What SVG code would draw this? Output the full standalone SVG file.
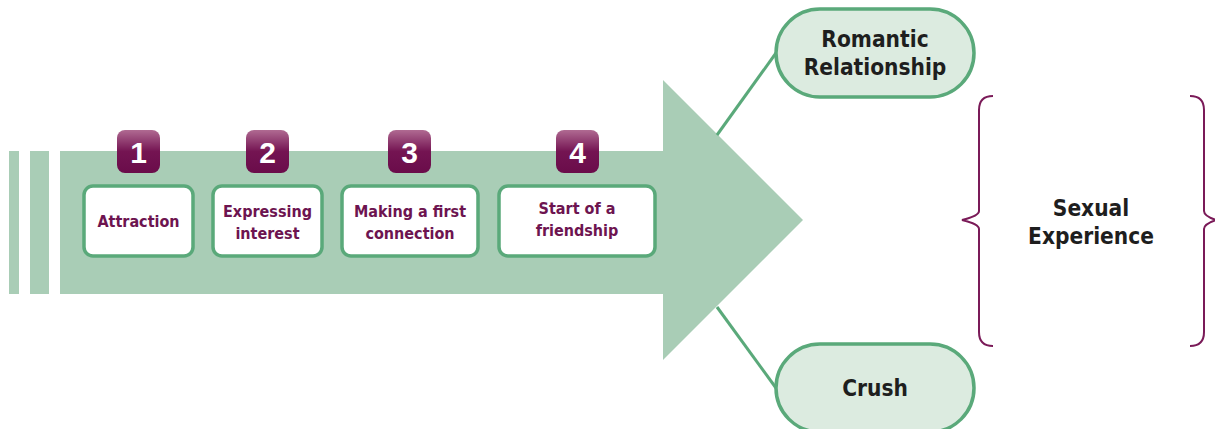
<svg xmlns="http://www.w3.org/2000/svg" width="1215" height="429" viewBox="0 0 1215 429">
<defs>
<linearGradient id="badgeGrad" x1="0" y1="0" x2="0" y2="1">
<stop offset="0" stop-color="#b06a92"/>
<stop offset="0.5" stop-color="#741452"/>
<stop offset="1" stop-color="#6a0c4a"/>
</linearGradient>
</defs>
<style>
.arrow{fill:#a9cdb6}
.box{fill:#ffffff;stroke:#5aa97a;stroke-width:3.5}
.badge{fill:url(#badgeGrad)}
.num{font-family:"Liberation Sans",Arial,sans-serif;font-weight:bold;font-size:30px;fill:#ffffff;text-anchor:middle}
.step{font-family:"DejaVu Sans Condensed","Liberation Sans",sans-serif;font-weight:bold;font-size:16px;fill:#6d1450;text-anchor:middle}
.pill{fill:#dcebe0;stroke:#5aa97a;stroke-width:3.5}
.big{font-family:"DejaVu Sans Condensed","Liberation Sans",sans-serif;font-weight:bold;font-size:22.5px;fill:#1e1e1e;text-anchor:middle}
.conn{stroke:#5aa97a;stroke-width:3;fill:none}
.brace{stroke:#7a1a58;stroke-width:2;fill:none}
</style>
<g id="arrow">
<rect class="arrow" x="9" y="151" width="10" height="143"/>
<rect class="arrow" x="30" y="151" width="19" height="143"/>
<polygon class="arrow" points="60,151 663,151 663,80 803,220 663,360 663,294 60,294"/>
</g>
<g id="connectors">
<line class="conn" x1="717" y1="135" x2="776" y2="53"/>
<line class="conn" x1="717" y1="307" x2="776" y2="388"/>
</g>
<g id="step1">
<rect class="badge" x="117" y="130" width="43" height="43" rx="8"/>
<text class="num" x="138.5" y="163">1</text>
<rect class="box" x="84" y="186" width="109" height="70" rx="9"/>
<text class="step" x="138.5" y="227">Attraction</text>
</g>
<g id="step2">
<rect class="badge" x="246" y="130" width="43" height="43" rx="8"/>
<text class="num" x="267.5" y="163">2</text>
<rect class="box" x="213" y="186" width="109" height="70" rx="9"/>
<text class="step" x="267.5" y="217">Expressing</text>
<text class="step" x="267.5" y="239">interest</text>
</g>
<g id="step3">
<rect class="badge" x="388" y="130" width="43" height="43" rx="8"/>
<text class="num" x="409.5" y="163">3</text>
<rect class="box" x="342" y="186" width="136" height="70" rx="9"/>
<text class="step" x="410" y="217">Making a first</text>
<text class="step" x="410" y="239">connection</text>
</g>
<g id="step4">
<rect class="badge" x="556" y="130" width="43" height="43" rx="8"/>
<text class="num" x="577.5" y="163">4</text>
<rect class="box" x="499" y="186" width="156" height="70" rx="9"/>
<text class="step" x="577" y="214">Start of a</text>
<text class="step" x="577" y="236">friendship</text>
</g>
<g id="romantic">
<rect class="pill" x="776" y="9" width="198" height="88" rx="44"/>
<text class="big" x="875" y="47">Romantic</text>
<text class="big" x="875" y="75">Relationship</text>
</g>
<g id="crush">
<rect class="pill" x="776" y="344" width="198" height="88" rx="44"/>
<text class="big" x="875" y="396">Crush</text>
</g>
<g id="sexual">
<path class="brace" d="M993,96 Q979,96 979,110 L979,211 Q979,216 962,220 Q979,224 979,229 L979,332 Q979,346 993,346"/>
<path class="brace" d="M1190,96 Q1204,96 1204,110 L1204,211 Q1204,216 1216,220 Q1204,224 1204,229 L1204,332 Q1204,346 1190,346"/>
<text class="big" x="1091" y="216">Sexual</text>
<text class="big" x="1091" y="244">Experience</text>
</g>
</svg>
